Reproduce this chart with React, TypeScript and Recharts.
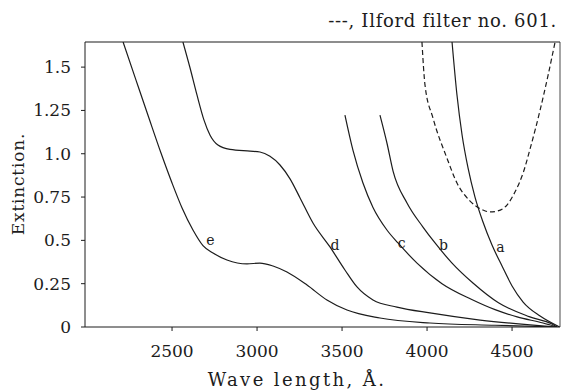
import { LineChart, Line, XAxis, YAxis, ReferenceLine, ReferenceDot } from 'recharts';

// wave length (Å) / extinction pairs
const waveA = [4147, 4176, 4206, 4241, 4282, 4329, 4382, 4441, 4500, 4565, 4665, 4780];
const extA = [1.645, 1.339, 1.108, 0.918, 0.75, 0.606, 0.473, 0.352, 0.237, 0.144, 0.063, 0];

const waveB = [3723, 3764, 3800, 3882, 3976, 4047, 4147, 4270, 4420, 4600, 4735, 4765];
const extB = [1.223, 1.062, 0.9, 0.716, 0.577, 0.485, 0.369, 0.254, 0.14, 0.06, 0.017, 0];

const waveC = [3517, 3564, 3623, 3682, 3764, 3829, 3941, 4088, 4260, 4400, 4530, 4682, 4765];
const extC = [1.223, 1.021, 0.831, 0.69, 0.56, 0.485, 0.369, 0.25, 0.16, 0.1, 0.058, 0.023, 0];

const waveD = [2564, 2606, 2647, 2688, 2723, 2770, 2841, 2959, 3017, 3076, 3135, 3194, 3253, 3329, 3429, 3517, 3588, 3682, 3823, 4017, 4312, 4606, 4765];
const extD = [1.645, 1.495, 1.338, 1.194, 1.108, 1.05, 1.025, 1.015, 1.01, 0.985, 0.935, 0.855, 0.745, 0.6, 0.462, 0.329, 0.231, 0.156, 0.115, 0.081, 0.04, 0.012, 0];

const waveE = [2212, 2288, 2364, 2435, 2500, 2559, 2623, 2682, 2741, 2823, 2941, 3017, 3094, 3176, 3294, 3411, 3529, 3723, 4017, 4400, 4765];
const extE = [1.645, 1.425, 1.206, 1.004, 0.831, 0.687, 0.56, 0.47, 0.427, 0.387, 0.364, 0.369, 0.352, 0.317, 0.242, 0.156, 0.098, 0.052, 0.023, 0.01, 0];

// Ilford filter no. 601 (dashed)
const waveFilter = [3970, 3988, 4035, 4117, 4176, 4253, 4329, 4370, 4412, 4470, 4517, 4565, 4612, 4665, 4712, 4753];
const extFilter = [1.645, 1.396, 1.206, 0.975, 0.831, 0.727, 0.675, 0.664, 0.669, 0.704, 0.779, 0.889, 1.05, 1.252, 1.454, 1.645];

const curveNames = ['a', 'b', 'c', 'd', 'e'];
const labelWave = [4432, 4097, 3850, 3458, 2725];
const labelExt = [0.462, 0.473, 0.485, 0.473, 0.502];

const xTicks = [2500, 3000, 3500, 4000, 4500];
const yTicks = [0, 0.25, 0.5, 0.75, 1, 1.25, 1.5];
const yTickLabels = ['0', '0.25', '0.5', '0.75', '1.0', '1.25', '1.5'];

const X_MIN = 1988;
const X_MAX = 4782;
const Y_MAX = 1.645;

const zip = (xs: number[], ys: number[]) => xs.map((x, i) => ({ x, y: ys[i] }));

const curves = [
  zip(waveA, extA),
  zip(waveB, extB),
  zip(waveC, extC),
  zip(waveD, extD),
  zip(waveE, extE),
];
const filterData = zip(waveFilter, extFilter);

const INK = '#1c1c1c';
const FONT = 'DejaVu Serif';

export default function App() {
  return (
    <div style={{ position: 'absolute', left: 0, top: 0, width: 562, height: 391, background: '#fff' }}>
      <div
        style={{
          position: 'absolute',
          right: 5,
          top: 12,
          fontFamily: FONT,
          fontSize: 18,
          letterSpacing: 0.7,
          lineHeight: '18px',
          color: INK,
          whiteSpace: 'nowrap',
        }}
      >
        ---, Ilford filter no. 601.
      </div>
      <LineChart width={562} height={391} margin={{ top: 42, right: 2, left: 25, bottom: 0 }}>
        <XAxis
          type="number"
          dataKey="x"
          domain={[X_MIN, X_MAX]}
          ticks={xTicks}
          allowDataOverflow
          height={64}
          tickSize={4}
          tickMargin={14}
          stroke={INK}
          tick={{ fontFamily: FONT, fontSize: 17, fill: INK }}
          label={{
            content: () => (
              <text
                x={297}
                y={386}
                textAnchor="middle"
                fontFamily={FONT}
                fontSize={18}
                letterSpacing={2.4}
                fill={INK}
              >
                Wave length, Å.
              </text>
            ),
          }}
        />
        <YAxis
          type="number"
          dataKey="y"
          domain={[0, Y_MAX]}
          ticks={yTicks}
          allowDataOverflow
          width={60}
          tickSize={4}
          tickMargin={10}
          stroke={INK}
          tickFormatter={(v: number) => yTickLabels[yTicks.indexOf(v)] ?? String(v)}
          tick={{ fontFamily: FONT, fontSize: 17, fill: INK }}
          label={{
            content: () => (
              <text
                x={18}
                y={184}
                transform="rotate(-90 18 184)"
                textAnchor="middle"
                dominantBaseline="central"
                fontFamily={FONT}
                fontSize={17}
                letterSpacing={0.8}
                fill={INK}
              >
                Extinction.
              </text>
            ),
          }}
        />
        <ReferenceLine y={Y_MAX} stroke={INK} strokeWidth={1.2} />
        <ReferenceLine x={X_MAX} stroke={INK} strokeWidth={0.8} />
        {curves.map((d, i) => (
          <Line
            key={curveNames[i]}
            data={d}
            dataKey="y"
            type="monotone"
            stroke={INK}
            strokeWidth={1.2}
            dot={false}
            activeDot={false}
            isAnimationActive={false}
          />
        ))}
        <Line
          data={filterData}
          dataKey="y"
          type="monotone"
          stroke={INK}
          strokeWidth={1.2}
          strokeDasharray="5 3"
          dot={false}
          activeDot={false}
          isAnimationActive={false}
        />
        {curveNames.map((n, i) => (
          <ReferenceDot
            key={n}
            x={labelWave[i]}
            y={labelExt[i]}
            r={1}
            fill="none"
            stroke="none"
            label={{ value: n, position: 'center', fontFamily: FONT, fontSize: 14, fill: INK }}
          />
        ))}
      </LineChart>
    </div>
  );
}
